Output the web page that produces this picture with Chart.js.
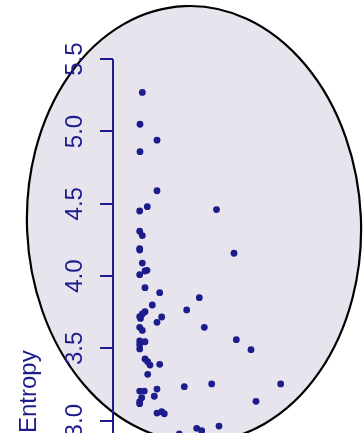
<!DOCTYPE html>
<html>
<head>
<meta charset="utf-8">
<script src="https://cdn.jsdelivr.net/npm/chart.js@4/dist/chart.umd.min.js"></script>
<style>
  html, body { margin: 0; padding: 0; background: #ffffff; }
  canvas { display: block; }
</style>
</head>
<body>
<canvas id="c" width="363" height="433"></canvas>
<script>
// ---- data ----
const xValues = [
  29.3, 27, 44, 27, 44, 34.3, 26.7, 103.5, 26.7, 29.3,
  26.7, 26.7, 29.3, 34, 32, 26.7, 32, 46.7, 39.3, 32,
  29.3, 26.7, 27.5, 48.7, 44, 26.7, 29.3, 26.7, 32, 26.7,
  26.7, 32, 34.7, 37, 46.7, 34.7, 26.7, 31.3, 44, 41.3,
  28.7, 26.7, 26.7, 44, 48.7, 51.3,
  121, 86.3, 73.7, 91.3, 123.3, 138, 71.3, 98.7, 167.7, 143,
  83.7, 88.7, 106, 66.3
];
const entropyValues = [
  5.27, 5.05, 4.94, 4.86, 4.59, 4.48, 4.45, 4.46, 4.31, 4.28,
  4.19, 4.18, 4.09, 4.04, 4.035, 4.01, 3.92, 3.885, 3.80, 3.754,
  3.738, 3.719, 3.707, 3.717, 3.68, 3.646, 3.624, 3.551, 3.546, 3.527,
  3.496, 3.427, 3.408, 3.385, 3.39, 3.321, 3.205, 3.205, 3.219, 3.169,
  3.159, 3.131, 3.118, 3.053, 3.062, 3.048,
  4.158, 3.851, 3.766, 3.646, 3.56, 3.491, 3.235, 3.254, 3.254, 3.134,
  2.947, 2.931, 2.963, 2.908
];
const yTickValues = [3.0, 3.5, 4.0, 4.5, 5.0, 5.5];
const yTickLabels = ["3.0", "3.5", "4.0", "4.5", "5.0", "5.5"];
const yAxisTitle = "Entropy";

// ---- styles ----
const NAVY = "#1c1c8c";
const PANEL_FILL = "#e8e4ee";
const FONT = "'Liberation Sans', Arial, Helvetica, sans-serif";
// background ellipse in data units (center x, center y, radius x, radius y), tilt in degrees
const ellipseSpec = { cx: 81, cy: 4.36, rx: 167, ry: 1.508, tiltDeg: -2.5 };

const points = xValues.map((x, i) => ({ x: x, y: entropyValues[i] }));

const panelPlugin = {
  id: 'panel',
  beforeDraw(chart) {
    const { ctx } = chart;
    const xs = chart.scales.x, ys = chart.scales.y;
    const cx = xs.getPixelForValue(ellipseSpec.cx);
    const cy = ys.getPixelForValue(ellipseSpec.cy);
    const rx = Math.abs(xs.getPixelForValue(ellipseSpec.cx + ellipseSpec.rx) - cx);
    const ry = Math.abs(ys.getPixelForValue(ellipseSpec.cy + ellipseSpec.ry) - cy);
    ctx.save();
    ctx.beginPath();
    ctx.ellipse(cx, cy, rx, ry, ellipseSpec.tiltDeg * Math.PI / 180, 0, Math.PI * 2);
    ctx.fillStyle = PANEL_FILL;
    ctx.fill();
    ctx.lineWidth = 2.2;
    ctx.strokeStyle = "#000000";
    ctx.stroke();
    ctx.restore();
  },
  beforeDatasetsDraw(chart) {
    const { ctx, chartArea } = chart;
    const ys = chart.scales.y;
    ctx.save();
    // axis line from top tick down
    ctx.beginPath();
    ctx.strokeStyle = NAVY;
    ctx.lineWidth = 2;
    const xLine = chartArea.left;
    ctx.moveTo(xLine, ys.getPixelForValue(yTickValues[yTickValues.length - 1]));
    ctx.lineTo(xLine, chartArea.bottom);
    ctx.stroke();
    // rotated tick labels
    ctx.fillStyle = NAVY;
    ctx.font = "24px " + FONT;
    ctx.textAlign = "center";
    ctx.textBaseline = "alphabetic";
    yTickValues.forEach((v, i) => {
      const py = ys.getPixelForValue(v);
      ctx.save();
      ctx.translate(xLine - 31, py);
      ctx.rotate(-Math.PI / 2);
      ctx.fillText(yTickLabels[i], 0, 0);
      ctx.restore();
    });
    ctx.restore();
  }
};

new Chart(document.getElementById('c'), {
  type: 'scatter',
  data: {
    datasets: [{
      data: points,
      backgroundColor: NAVY,
      borderWidth: 0,
      pointRadius: 3.4,
      pointHoverRadius: 3.4
    }]
  },
  options: {
    responsive: false,
    animation: false,
    events: [],
    layout: { padding: 0, autoPadding: false },
    plugins: { legend: { display: false }, tooltip: { enabled: false } },
    scales: {
      x: {
        type: 'linear',
        display: false,
        min: 0,
        max: 250
      },
      y: {
        type: 'linear',
        min: 2.915,
        max: 5.909,
        afterFit(s) { s.width = 113; },
        afterBuildTicks(s) { s.ticks = yTickValues.map(v => ({ value: v })); },
        border: { display: false },
        grid: {
          drawOnChartArea: false,
          drawTicks: true,
          tickLength: 13,
          color: NAVY,
          lineWidth: 2
        },
        ticks: { display: false, includeBounds: false },
        title: {
          display: true,
          text: yAxisTitle,
          align: 'start',
          color: NAVY,
          font: { family: FONT, size: 24, lineHeight: 1.2 },
          padding: { top: 15, bottom: 0 }
        }
      }
    }
  },
  plugins: [panelPlugin]
});
</script>
</body>
</html>
